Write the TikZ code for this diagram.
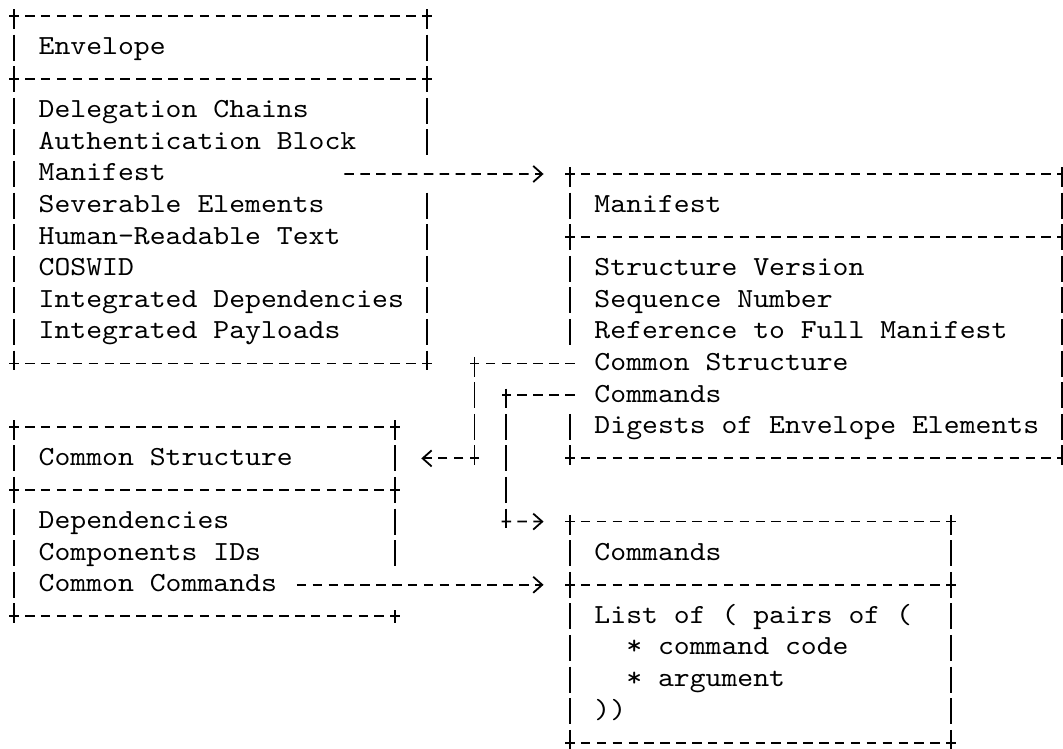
\documentclass[tikz,border=0pt]{standalone}
\usepackage{fontspec}
\newfontfamily\asciifont{lmmono10-regular}[Extension=.otf,FakeStretch=1.096]
\usetikzlibrary{arrows.meta,fit}

\begin{document}
\begin{tikzpicture}[%
		x=7.94pt,
		y=-15.8pt,
		line width=0.9pt,
		font={\asciifont\fontsize{13.8pt}{15.8pt}\selectfont},
		txt/.style={%
			anchor=west,
			inner sep=0pt,
			text height=9pt,
			text depth=2pt
		},
		box/.style={inner sep=0pt, outer sep=0pt},
		hrule/.style={dash pattern=on 4.75pt off 3.19pt, shorten <=-2.375pt, shorten >=-2.375pt},
		vrule/.style={dash pattern=on 13pt off 2.8pt, dash phase=3.2pt, shorten <=-3.3pt, shorten >=-3.3pt},
		link/.style={dash pattern=on 4.75pt off 3.19pt},
		tip/.style={-{Straight Barb[length=4.5pt,width=8pt]}}
		]
		\useasboundingbox (-0.88,-0.506) rectangle (66.06,23.19);
		
		\node[box, fit={(0,0) (26,11)}]  (env) {};
		\node[box, fit={(35,5) (66,14)}] (man) {};
		\node[box, fit={(0,13) (24,19)}] (com) {};
		\node[box, fit={(35,16) (59,23)}] (cmd) {};
		
		\node[txt] (envT)  at (1.5,1)  {Envelope};
		\node[txt] (env3)  at (1.5,3)  {Delegation Chains};
		\node[txt] (env4)  at (1.5,4)  {Authentication Block};
		\node[txt] (env5)  at (1.5,5)  {Manifest};
		\node[txt] (env6)  at (1.5,6)  {Severable Elements};
		\node[txt] (env7)  at (1.5,7)  {Human-Readable Text};
		\node[txt] (env8)  at (1.5,8)  {COSWID};
		\node[txt] (env9)  at (1.5,9)  {Integrated Dependencies};
		\node[txt] (env10) at (1.5,10) {Integrated Payloads};
		
		\node[txt] (manT)  at (36.5,6)  {Manifest};
		\node[txt] (man8)  at (36.5,8)  {Structure Version};
		\node[txt] (man9)  at (36.5,9)  {Sequence Number};
		\node[txt] (man10) at (36.5,10) {Reference to Full Manifest};
		\node[txt] (man11) at (36.5,11) {Common Structure};
		\node[txt] (man12) at (36.5,12) {Commands};
		\node[txt] (man13) at (36.5,13) {Digests of Envelope Elements};
		
		\node[txt] (comT)  at (1.5,14) {Common Structure};
		\node[txt] (com16) at (1.5,16) {Dependencies};
		\node[txt] (com17) at (1.5,17) {Components IDs};
		\node[txt] (com18) at (1.5,18) {Common Commands};
		
		\node[txt] (cmdT)  at (36.5,17) {Commands};
		\node[txt] (cmd19) at (36.5,19) {List of ( pairs of (};
		\node[txt] (cmd20) at (38.5,20) {* command code};
		\node[txt] (cmd21) at (38.5,21) {* argument};
		\node[txt] (cmd22) at (36.5,22) {))};
		
		% box frames
		\foreach \b/\s in {env/2, man/7, com/15, cmd/18} {
			\draw[hrule] (\b.north west) -- (\b.north east);
			\draw[hrule] (\b.west |- 0,\s) -- (\b.east |- 0,\s);
			\draw[hrule] (\b.south west) -- (\b.south east);
		}
		\draw[vrule] (env.north west) -- (env.south west);
		\draw[vrule, shorten >=-6.5pt] (env.north east) -- (26,4);
		\draw[vrule, shorten <=-6.5pt, dash phase=0pt] (26,6) -- (env.south east);
		\draw[vrule, shorten >=-6.5pt] (man.north west) -- (35,10);
		\draw[vrule, shorten <=-6.5pt, dash phase=0pt] (35,13) -- (man.south west);
		\draw[vrule] (man.north east) -- (man.south east);
		\draw[vrule] (com.north west) -- (com.south west);
		\draw[vrule, shorten >=-6.5pt] (com.north east) -- (24,17);
		\draw (com.south east) ++(0,-3.3pt) -- ++(0,6.6pt);
		\draw[vrule] (cmd.north west) -- (cmd.south west);
		\draw[vrule] (cmd.north east) -- (cmd.south east);
		
		% connectors
		\coordinate (j1) at (29,11);
		\coordinate (j2) at (29,14);
		\coordinate (j3) at (31,12);
		\coordinate (j4) at (31,16);
		
		\draw[link, tip, shorten <=88.9pt, shorten >=13.1pt] (env5.east) -- (man.north west);
		
		\draw[link, shorten <=-2.375pt, shorten >=-2.375pt] (man.west |- man11) -- (j1);
		\draw[vrule] (j1) -- (j2);
		\draw[link, tip, shorten <=-2.375pt, shorten >=13.1pt] (j2) -- (com.east |- comT);
		
		\draw[link, shorten <=-2.375pt, shorten >=-2.375pt] (man.west |- man12) -- (j3);
		\draw[vrule] (j3) -- (j4);
		\draw[link, tip, shorten <=-2.375pt, shorten >=13.1pt] (j4) -- (cmd.north west);
		
		\draw[link, tip, shorten <=9.5pt, shorten >=13.1pt] (com18.east) -- (cmd.west |- com18);
\end{tikzpicture}
\end{document}
